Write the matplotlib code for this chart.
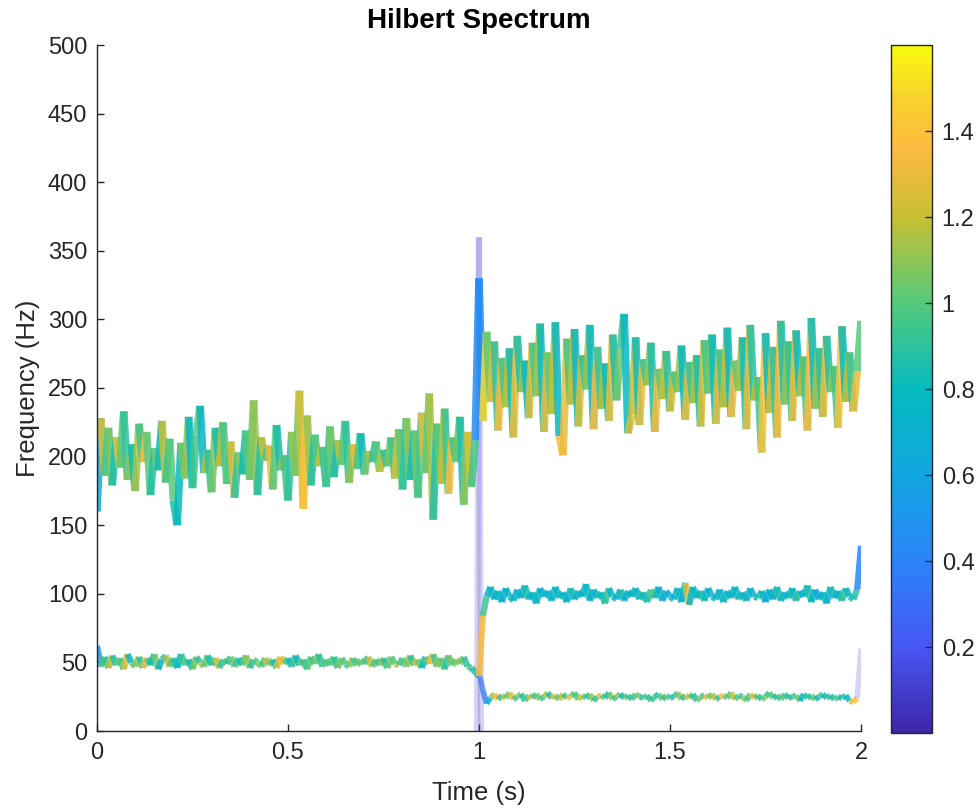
import numpy as np
import matplotlib
matplotlib.use("Agg")
import matplotlib.pyplot as plt
from matplotlib.collections import LineCollection
from matplotlib.colors import LinearSegmentedColormap, Normalize

# Hilbert spectrum of a signal with a frequency jump at t = 1 s
# sampled every 10 ms, values read off the reference picture

dt = 0.01

# IMF 1: ~200 Hz for 0-1 s, ~250 Hz for 1-2 s (201 samples)
imf1_freq = [
    160, 228, 186, 221, 179, 214, 192, 233, 183, 209, 175, 224, 196, 218, 172, 206, 190, 226, 181, 213,
    168, 150, 210, 184, 229, 177, 216, 237, 188, 205, 174, 221, 193, 225, 180, 211, 170, 203, 187, 219,
    183, 241, 172, 214, 197, 208, 176, 223, 190, 201, 168, 218, 186, 248, 162, 230, 179, 216, 193, 207,
    178, 222, 185, 212, 194, 226, 181, 209, 191, 217, 187, 204, 196, 211, 189, 205, 193, 214, 184, 220,
    176, 228, 183, 219, 170, 232, 188, 246, 154, 224, 180, 235, 173, 214, 196, 229, 165, 218, 178, 212,
    330,
    226, 291, 240, 284, 219, 272, 236, 279, 214, 288, 247, 270, 228, 283, 244, 297, 218, 276, 231, 298,
    215, 201, 286, 238, 293, 222, 274, 249, 296, 220, 280, 235, 268, 226, 289, 241, 278, 304, 217, 230,
    287, 223, 271, 252, 283, 218, 264, 242, 277, 233, 262, 247, 281, 227, 269, 239, 274, 222, 285, 246,
    289, 224, 278, 236, 294, 229, 270, 248, 287, 220, 296, 241, 258, 203, 290, 232, 280, 214, 299, 238,
    284, 226, 292, 244, 273, 219, 301, 235, 279, 229, 288, 247, 266, 221, 295, 240, 276, 233, 262, 299,
]
imf1_amp = [
    0.62, 1.25, 0.95, 1.05, 0.85, 1.30, 1.00, 0.90, 1.10, 0.82, 1.15, 0.95, 1.35, 1.00, 0.88, 1.05, 0.80, 1.20, 0.92, 1.00,
    0.85, 0.80, 1.05, 1.10, 0.78, 0.95, 1.00, 0.75, 1.15, 0.90, 1.05, 0.85, 1.20, 0.95, 1.00, 1.25, 0.90, 1.10, 0.82, 1.00,
    1.05, 1.10, 0.88, 1.20, 0.95, 1.30, 1.00, 0.85, 1.10, 0.95, 0.90, 1.15, 1.05, 1.25, 1.40, 1.10, 0.88, 1.00, 1.20, 0.92,
    0.95, 1.05, 0.85, 1.20, 1.00, 0.90, 1.10, 1.30, 0.95, 0.82, 1.05, 1.15, 0.90, 1.00, 1.20, 0.88, 1.05, 0.95, 1.25, 1.00,
    0.90, 1.10, 0.82, 1.05, 0.95, 1.30, 1.00, 1.15, 0.88, 1.00, 1.20, 0.92, 1.35, 0.95, 1.05, 0.85, 1.10, 1.25, 0.95, 0.45,
    0.45,
    1.50, 1.00, 1.30, 0.90, 1.35, 0.95, 1.20, 0.82, 1.30, 0.85, 1.10, 0.78, 1.25, 0.95, 1.15, 0.80, 1.30, 1.00, 1.20, 0.78,
    1.35, 1.30, 0.95, 1.20, 0.75, 1.25, 0.90, 1.10, 0.78, 1.35, 0.90, 1.15, 0.80, 1.30, 0.85, 1.05, 0.95, 0.78, 1.25, 1.20,
    0.82, 1.30, 0.90, 1.15, 0.85, 1.35, 1.00, 1.20, 0.88, 1.25, 0.95, 1.10, 0.80, 1.30, 0.90, 1.15, 0.85, 1.25, 0.95, 1.05,
    0.80, 1.30, 0.92, 1.20, 0.78, 1.35, 1.00, 1.15, 0.82, 1.30, 0.88, 1.20, 0.95, 1.40, 0.80, 1.25, 0.90, 1.35, 0.85, 1.10,
    0.90, 1.30, 0.78, 1.20, 0.95, 1.35, 0.82, 1.15, 0.88, 1.30, 0.85, 1.10, 0.95, 1.40, 0.80, 1.20, 0.92, 1.30, 1.00, 1.40,
]

# IMF 2: ~50 Hz for 0-1 s, ~100 Hz for 1-2 s (201 samples)
imf2_freq = [
    62, 47, 54, 46, 55, 48, 53, 45, 56, 50, 47, 54, 46, 53, 48, 56, 45, 52, 55, 47,
    53, 46, 56, 48, 52, 45, 54, 50, 47, 55, 48, 53, 46, 52, 49, 54, 47, 53, 48, 55,
    46, 52, 50, 47, 53, 48, 52, 46, 54, 49, 53, 47, 55, 48, 52, 45, 54, 49, 56, 47,
    52, 48, 54, 46, 53, 49, 47, 53, 48, 52, 49, 54, 47, 52, 48, 53, 46, 54, 49, 48,
    53, 47, 55, 48, 52, 46, 54, 49, 56, 47, 53, 45, 55, 48, 52, 49, 54, 47, 46, 43,
    40,
    84, 98, 105, 96, 102, 94, 104, 98, 95, 103, 97, 106, 96, 101, 93, 104, 98, 102, 95, 105,
    97, 101, 94, 104, 96, 102, 98, 107, 95, 103, 97, 101, 93, 104, 98, 96, 103, 95, 102, 98,
    104, 96, 101, 94, 103, 97, 105, 95, 102, 98, 96, 104, 94, 108, 92, 105, 97, 102, 95, 104,
    98, 96, 103, 94, 102, 97, 105, 96, 101, 95, 104, 98, 97, 102, 94, 103, 96, 105, 95, 101,
    97, 104, 95, 102, 98, 106, 94, 103, 96, 101, 93, 105, 97, 102, 95, 104, 98, 96, 103, 135,
]
imf2_amp = [
    0.50, 1.00, 0.90, 1.20, 0.85, 1.05, 0.95, 1.25, 0.80, 1.00, 1.10, 0.90, 1.30, 0.95, 0.80, 1.05, 0.75, 0.90, 1.15, 1.00,
    0.85, 0.78, 0.95, 1.00, 0.82, 1.05, 0.90, 1.15, 1.00, 0.85, 0.95, 1.25, 0.90, 1.00, 0.88, 1.05, 0.95, 0.82, 1.00, 1.10,
    0.90, 1.00, 1.05, 0.95, 1.20, 1.00, 0.85, 1.25, 1.30, 1.00, 0.80, 0.95, 0.78, 1.05, 0.90, 1.00, 0.95, 1.05, 0.88, 1.00,
    0.95, 1.00, 0.90, 1.05, 1.00, 0.92, 1.10, 0.95, 1.00, 1.05, 0.90, 1.20, 1.00, 0.95, 1.10, 0.85, 1.05, 1.00, 1.15, 0.95,
    1.00, 1.10, 0.90, 1.25, 1.00, 0.80, 1.05, 1.35, 0.95, 1.10, 1.00, 0.90, 1.05, 1.00, 1.10, 1.05, 0.90, 0.95, 0.85, 0.80,
    1.35,
    0.95, 0.72, 0.78, 0.70, 0.80, 0.65, 0.75, 0.80, 0.68, 0.78, 0.72, 0.85, 0.70, 0.80, 0.75, 0.70, 0.82, 0.65, 0.78, 0.72,
    0.80, 0.70, 0.75, 0.85, 0.68, 0.78, 0.72, 0.80, 0.70, 0.75, 0.85, 0.78, 0.90, 0.75, 0.80, 0.72, 0.85, 0.70, 0.78, 0.80,
    0.75, 0.85, 0.78, 0.90, 1.00, 0.80, 0.72, 0.68, 0.70, 0.65, 0.72, 0.80, 0.70, 1.25, 0.75, 0.80, 0.72, 0.85, 0.78, 0.70,
    0.80, 0.75, 0.70, 0.82, 0.72, 0.80, 0.75, 0.85, 0.70, 0.78, 0.72, 0.80, 0.88, 0.75, 0.65, 0.80, 0.72, 0.85, 0.78, 0.70,
    0.82, 0.75, 0.90, 0.72, 0.80, 0.85, 0.75, 0.60, 0.80, 0.78, 0.72, 0.85, 0.70, 0.80, 0.90, 0.75, 0.82, 0.88, 0.42, 0.42,
]

# IMF 3: ~25 Hz, only present for 1-2 s (101 samples)
imf3_start = 1.0
imf3_freq = [
    42, 30, 20, 24, 27, 23, 26, 24, 28, 23, 25, 27, 22, 26, 24, 27, 23, 25, 28, 24,
    26, 23, 27, 24, 25, 28, 23, 26, 24, 27, 22, 25, 26, 24, 28, 23, 25, 27, 24, 26,
    23, 27, 25, 24, 26, 22, 25, 27, 23, 26, 24, 25, 28, 23, 26, 24, 27, 22, 25, 26,
    24, 27, 23, 25, 26, 24, 28, 23, 26, 25, 22, 27, 24, 26, 23, 25, 28, 24, 26, 23,
    27, 24, 25, 26, 22, 27, 24, 26, 23, 25, 27, 24, 26, 23, 25, 24, 26, 22, 21, 24,
    60,
]
imf3_amp = [
    0.30, 0.35, 0.70, 1.10, 1.35, 0.90, 1.20, 1.00, 1.30, 0.95, 1.10, 0.85, 1.00, 1.25, 0.90, 1.05, 0.95, 1.15, 0.85, 1.30,
    1.00, 1.20, 0.90, 1.35, 1.05, 0.95, 1.25, 1.00, 0.88, 1.10, 0.90, 1.30, 1.00, 0.85, 1.05, 0.95, 1.10, 0.80, 1.00, 0.90,
    0.95, 1.05, 0.85, 1.00, 0.90, 0.95, 0.82, 1.05, 0.90, 1.00, 0.85, 0.95, 1.10, 0.90, 1.25, 1.00, 0.88, 1.05, 0.95, 1.30,
    1.00, 1.20, 0.90, 1.35, 1.05, 0.95, 1.25, 1.00, 0.90, 1.10, 0.95, 1.30, 1.00, 0.88, 1.05, 0.90, 1.00, 0.85, 0.95, 1.00,
    0.90, 0.85, 0.95, 1.05, 0.80, 0.90, 0.85, 1.00, 0.82, 0.95, 0.78, 0.90, 0.85, 1.00, 0.80, 0.90, 0.75, 1.30, 1.40, 0.10,
    0.10,
]

# faint low-energy component at the jump
resid_time = [0.995, 1.0, 1.005]
resid_freq = [0, 360, 0]
resid_amp = [0.10, 0.10, 0.10]

# parula-like colormap
parula = LinearSegmentedColormap.from_list("parula", [
    (0.000, (0.242, 0.150, 0.660)),
    (0.125, (0.280, 0.340, 0.960)),
    (0.250, (0.170, 0.520, 0.975)),
    (0.375, (0.070, 0.650, 0.880)),
    (0.500, (0.020, 0.730, 0.750)),
    (0.625, (0.330, 0.790, 0.480)),
    (0.750, (0.780, 0.750, 0.200)),
    (0.850, (0.990, 0.730, 0.250)),
    (0.930, (0.970, 0.830, 0.170)),
    (1.000, (0.976, 0.983, 0.054)),
])
norm = Normalize(vmin=0.0, vmax=1.6)

plt.rcParams['font.family'] = ['Liberation Sans', 'DejaVu Sans']
txt = '#262626'


def add_track(ax, t, f, a, lw=4.5):
    t = np.asarray(t, float)
    f = np.asarray(f, float)
    a = np.asarray(a, float)
    pts = np.column_stack([t, f]).reshape(-1, 1, 2)
    segs = np.concatenate([pts[:-1], pts[1:]], axis=1)
    cols = parula(norm(a[:-1]))
    # weak components fade out
    cols[:, 3] = np.clip(a[:-1] / 0.45, 0.15, 0.85)
    lc = LineCollection(segs, colors=cols, linewidths=lw, capstyle='butt')
    ax.add_collection(lc)


fig = plt.figure(figsize=(9.79, 8.09), dpi=100)
ax = fig.add_axes([97 / 979, 1 - 731 / 809, 764 / 979, 686 / 809])

t_full = np.arange(len(imf1_freq)) * dt
t3 = imf3_start + np.arange(len(imf3_freq)) * dt

add_track(ax, resid_time, resid_freq, resid_amp, lw=4.5)
add_track(ax, t3, imf3_freq, imf3_amp, lw=4.0)
add_track(ax, t_full, imf2_freq, imf2_amp, lw=4.5)
add_track(ax, t_full, imf1_freq, imf1_amp, lw=5.5)

ax.set_xlim(0, 2)
ax.set_ylim(0, 500)
ax.set_xticks([0, 0.5, 1, 1.5, 2])
ax.set_xticklabels(['0', '0.5', '1', '1.5', '2'])
ax.set_yticks(np.arange(0, 501, 50))
for s in ['top', 'right']:
    ax.spines[s].set_visible(False)
for s in ['left', 'bottom']:
    ax.spines[s].set_color(txt)
    ax.spines[s].set_linewidth(1.0)
ax.tick_params(direction='in', length=5, width=1.0, colors=txt, labelsize=17)
ax.tick_params(axis='x', pad=8)
ax.tick_params(axis='y', pad=7)
ax.set_xlabel('Time (s)', fontsize=18.5, color=txt, labelpad=12)
ax.set_ylabel('Frequency (Hz)', fontsize=18.5, color=txt, labelpad=6)
ax.set_title('Hilbert Spectrum', fontsize=20, fontweight='bold', color='black', pad=12)

cax = fig.add_axes([891 / 979, 1 - 733 / 809, 41 / 979, 688 / 809])
sm = plt.cm.ScalarMappable(norm=norm, cmap=parula)
cb = fig.colorbar(sm, cax=cax)
cb.set_ticks([0.2, 0.4, 0.6, 0.8, 1.0, 1.2, 1.4])
cb.set_ticklabels(['0.2', '0.4', '0.6', '0.8', '1', '1.2', '1.4'])
cb.outline.set_edgecolor(txt)
cb.outline.set_linewidth(1.0)
cax.tick_params(direction='in', length=5, width=1.0, colors=txt, labelsize=17, pad=7)

fig.savefig('out.png', dpi=100)
